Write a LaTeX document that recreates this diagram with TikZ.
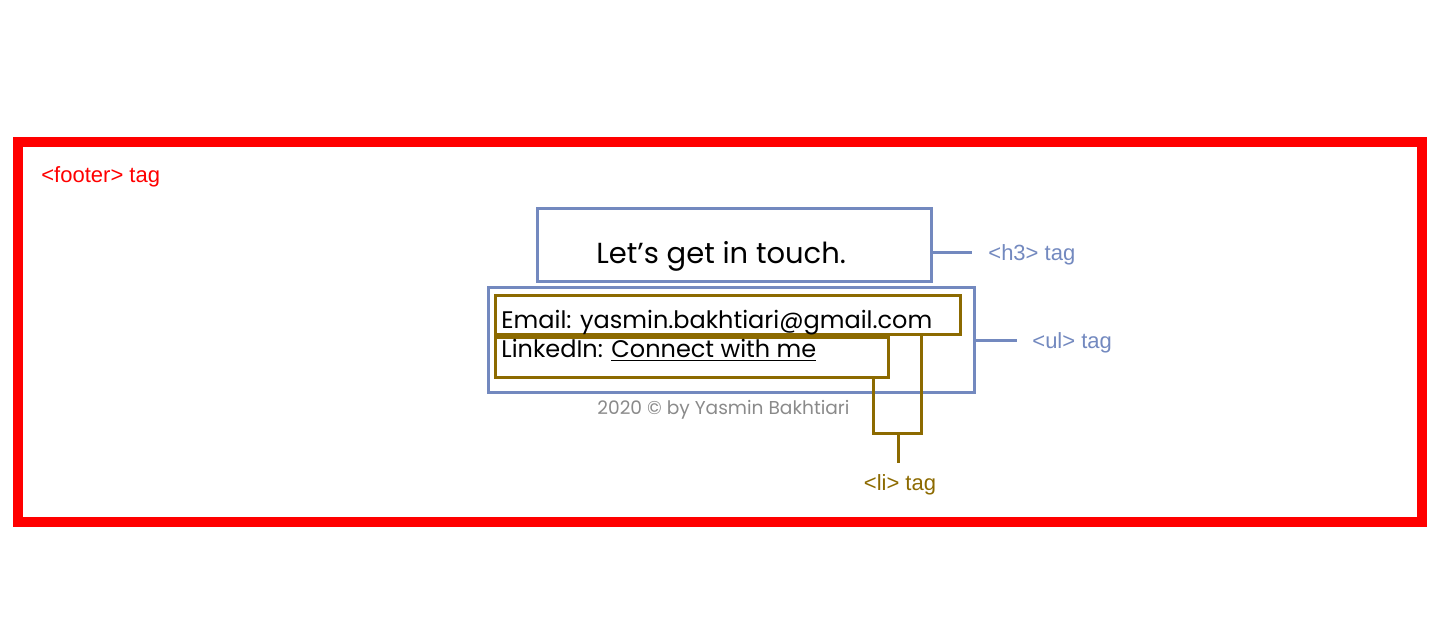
\documentclass[tikz,border=0pt]{standalone}
\usepackage{fontspec}
\setmainfont{Poppins}
\newfontfamily\arialf{Liberation Sans}
\definecolor{tagred}{HTML}{FF0000}
\definecolor{tagblue}{HTML}{7389BF}
\definecolor{tagbrown}{HTML}{8C6A00}
\definecolor{foottext}{HTML}{8A8A8A}
\begin{document}
\begin{tikzpicture}[x=0.5pt,y=-0.5pt,
  box/.style={draw,inner sep=0pt,anchor=center},
  bluebox/.style={box,draw=tagblue,line width=1.5pt},
  brownbox/.style={box,draw=tagbrown,line width=1.5pt},
  taglabel/.style={font=\arialf\fontsize{11}{13}\selectfont,inner sep=0pt,anchor=west},
  maintext/.style={inner sep=0pt,anchor=base west,text=black}]
\useasboundingbox (0,0) rectangle (1440,634);
\node[box,draw=tagred,line width=5pt,minimum width=702pt,minimum height=190pt] (footer) at (720,332) {};
\node[taglabel,text=tagred] (footerlbl) at (41,177) {<footer> tag};
\node[bluebox,minimum width=197pt,minimum height=36.5pt] (h3) at (734,244.5) {};
\node[bluebox,minimum width=243pt,minimum height=52.5pt] (ul) at (731,339.5) {};
\node[brownbox,minimum width=232.5pt,minimum height=19.5pt] (li1) at (727.5,314.5) {};
\node[brownbox,minimum width=196.5pt,minimum height=20pt] (li2) at (691.5,357) {};
\node[maintext,font=\fontsize{14.5}{16}\selectfont] (h3txt) at (596,263) {Let’s get in touch.};
\node[maintext,font=\fontsize{12}{14}\selectfont] (emailtxt) at (501,328) {Email: yasmin.bakhtiari@gmail.com};
\node[maintext,font=\fontsize{12}{14}\selectfont] (lintxt) at (501,357) {LinkedIn: \underline{Connect with me}};
\node[maintext,font=\fontsize{9.3}{11}\selectfont,text=foottext] (copy) at (597,414) {2020 © by Yasmin Bakhtiari};
\coordinate (h3end) at (972,252);
\coordinate (ulend) at (1017,340);
\node[taglabel,text=tagblue] (h3lbl) at (988,254.5) {<h3> tag};
\node[taglabel,text=tagblue] (ullbl) at (1032,342.5) {<ul> tag};
\draw[tagblue,line width=1.5pt] (h3.east |- h3end) -- (h3end);
\draw[tagblue,line width=1.5pt] (ul.east |- ulend) -- (ulend);
\coordinate (br1) at (921,433);
\coordinate (br2) at (873,433);
\coordinate (brmid) at (898,433);
\coordinate (brend) at (898,463);
\draw[tagbrown,line width=1.5pt] (li1.south -| br1) -- (br1) -- (br2) -- (li2.south -| br2);
\draw[tagbrown,line width=1.5pt] (brmid) -- (brend);
\node[taglabel,text=tagbrown,anchor=center] (lilbl) at (900,484.5) {<li> tag};
\end{tikzpicture}
\end{document}
